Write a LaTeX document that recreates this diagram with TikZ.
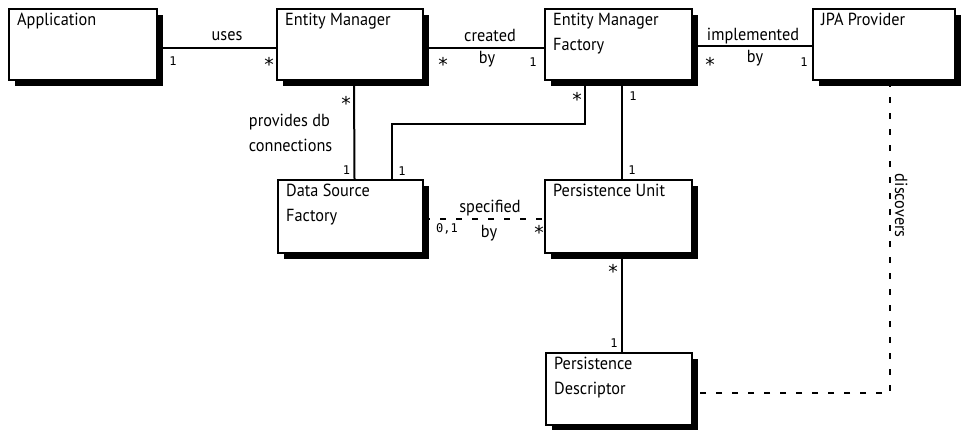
\documentclass[tikz,border=0pt]{standalone}
\usepackage{fontspec}
\setmainfont[FakeStretch=0.93]{PT Sans}
\newfontfamily\multfont{DejaVu Sans Mono}
\usetikzlibrary{shadows}
\begin{document}
\begin{tikzpicture}[x=1pt,y=-1pt,
  umlbox/.style={draw, line width=2pt, fill=white, inner sep=0pt,
    general shadow={fill=black, shadow xshift=6pt, shadow yshift=-6pt}},
  boxtext/.style={anchor=north west, inner sep=0pt, align=left, font=\fontsize{17.5}{25}\selectfont},
  conn/.style={line width=2pt},
  dconn/.style={line width=2pt, dash pattern=on 6pt off 10pt},
  lbl/.style={anchor=base, inner sep=0pt, font=\fontsize{17.5}{25}\selectfont},
  mult/.style={anchor=base, inner sep=0pt, font=\multfont\fontsize{12}{14}\selectfont},
  star/.style={anchor=base, inner sep=0pt, font=\multfont\fontsize{19}{21}\selectfont}]
\useasboundingbox (0,0) rectangle (964,429);

% boxes
\node[umlbox, minimum width=148pt, minimum height=71pt] (app) at (83,44.5) {};
\node[umlbox, minimum width=146pt, minimum height=71pt] (em) at (350,44.5) {};
\node[umlbox, minimum width=147pt, minimum height=71pt] (emf) at (618.5,44.5) {};
\node[umlbox, minimum width=142pt, minimum height=71pt] (jpa) at (884,44.5) {};
\node[umlbox, minimum width=145pt, minimum height=73pt] (dsf) at (350.5,216.5) {};
\node[umlbox, minimum width=147pt, minimum height=73pt] (pu) at (618.5,216.5) {};
\node[umlbox, minimum width=146pt, minimum height=72pt] (pd) at (619,389) {};

% box texts
\node[boxtext] (app-t) at ([xshift=9pt,yshift=-5pt]app.north west) {Application};
\node[boxtext] (em-t) at ([xshift=9pt,yshift=-5pt]em.north west) {Entity Manager};
\node[boxtext] (emf-t) at ([xshift=9pt,yshift=-5pt]emf.north west) {Entity Manager\\Factory};
\node[boxtext] (jpa-t) at ([xshift=9pt,yshift=-5pt]jpa.north west) {JPA Provider};
\node[boxtext] (dsf-t) at ([xshift=9pt,yshift=-5pt]dsf.north west) {Data Source\\Factory};
\node[boxtext] (pu-t) at ([xshift=9pt,yshift=-5pt]pu.north west) {Persistence Unit};
\node[boxtext] (pd-t) at ([xshift=9pt,yshift=-5pt]pd.north west) {Persistence\\Descriptor};

% uses
\draw[conn] ([yshift=-3pt]app.east) --
  node[lbl, midway, xshift=10pt, yshift=7.5pt] (uses-l) {uses}
  node[mult, at start, xshift=15pt, yshift=-17.5pt] (uses-m1) {1}
  node[star, at start, xshift=111pt, yshift=-24pt] (uses-m2) {*}
  ([yshift=-3pt]em.west);

% created by
\draw[conn] ([yshift=-3pt]em.east) --
  node[lbl, midway, xshift=6pt, yshift=6.5pt] (cr-l1) {created}
  node[lbl, midway, xshift=3pt, yshift=-15.5pt] (cr-l2) {by}
  node[star, at start, xshift=19pt, yshift=-24pt] (cr-m1) {*}
  node[mult, at end, xshift=-11pt, yshift=-18.5pt] (cr-m2) {1}
  ([yshift=-3pt]emf.west);

% implemented by
\draw[conn] ([yshift=-1pt]emf.east) --
  node[lbl, midway, xshift=0.5pt, yshift=5.5pt] (im-l1) {implemented}
  node[lbl, midway, xshift=2.5pt, yshift=-16.5pt] (im-l2) {by}
  node[star, at start, xshift=17pt, yshift=-26pt] (im-m1) {*}
  node[mult, at end, xshift=-8pt, yshift=-20.5pt] (im-m2) {1}
  ([yshift=-1pt]jpa.west);

% provides db connections
\draw[conn] ([xshift=4pt]em.south) --
  node[lbl, midway, anchor=east, align=left, xshift=-21pt, yshift=-2.5pt] (pr-l) {provides db\\connections}
  node[star, at start, xshift=-8pt, yshift=-29pt] (pr-m1) {*}
  node[mult, at end, xshift=-8pt, yshift=5pt] (pr-m2) {1}
  ([xshift=4pt]dsf.north);

% EMF to DSF elbow
\draw[conn] ([xshift=-33.5pt]emf.south)
  node[star, xshift=-8pt, yshift=-25pt] (el-m1) {*}
  -- ++(0,42.5) -| ([xshift=41.5pt]dsf.north)
  node[mult, xshift=10pt, yshift=4pt] (el-m2) {1};

% EMF to PU
\draw[conn] ([xshift=3.5pt]emf.south) --
  node[mult, at start, xshift=11pt, yshift=-19.5pt] (ep-m1) {1}
  node[mult, at end, xshift=10pt, yshift=5pt] (ep-m2) {1}
  ([xshift=3.5pt]pu.north);

% specified by
\draw[dconn] ([yshift=-2.5pt]dsf.east) --
  node[lbl, midway, xshift=6pt, yshift=7pt] (sp-l1) {specified}
  node[lbl, midway, xshift=5pt, yshift=-18pt] (sp-l2) {by}
  node[mult, at start, xshift=23pt, yshift=-13pt] (sp-m1) {0,1}
  node[star, at end, xshift=-5pt, yshift=-20.5pt] (sp-m2) {*}
  ([yshift=-2.5pt]pu.west);

% PU to PD
\draw[conn] ([xshift=3.5pt]pu.south) --
  node[star, at start, xshift=-9pt, yshift=-24.5pt] (pp-m1) {*}
  node[mult, at end, xshift=-8pt, yshift=5pt] (pp-m2) {1}
  ([xshift=3pt]pd.north);

% discovers
\draw[dconn] ([xshift=6pt]jpa.south) |-
  node[lbl, pos=0.2, xshift=5pt, rotate=-90] (disc-l) {discovers}
  ([yshift=-4pt]pd.east);
\end{tikzpicture}
\end{document}
